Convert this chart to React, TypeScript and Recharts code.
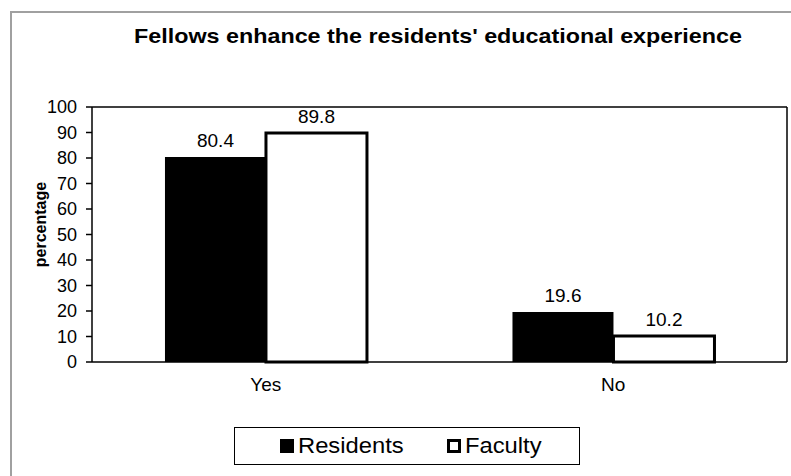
import React from "react";
import { BarChart, Bar, XAxis, YAxis, Legend, LabelList } from "recharts";

const categories = ["Yes", "No"];
const residents = [80.4, 19.6];
const faculty = [89.8, 10.2];
const yTicks = [0, 10, 20, 30, 40, 50, 60, 70, 80, 90, 100];
const edgeTicks = [0, 1, 2];
const seriesNames = ["Residents", "Faculty"];

const data = categories.map((name, i) => ({
    name,
    Residents: residents[i],
    Faculty: faculty[i],
}));

const FONT = "Arial, 'Liberation Sans', sans-serif";

function YLabel(props: any) {
    const vb = props.viewBox;
    const x = vb.x + 8;
    const y = vb.y + vb.height / 2 - 10;
    return (
        <text
            x={x}
            y={y}
            transform={`rotate(-90, ${x}, ${y})`}
            textAnchor="middle"
            dominantBaseline="central"
            fontFamily={FONT}
            fontSize={16}
            fontWeight="bold"
            fill="#000"
        >
            percentage
        </text>
    );
}

function LegendBox() {
    return (
        <div
            style={{
                width: "100%",
                height: "100%",
                boxSizing: "border-box",
                border: "1.5px solid #000",
                background: "#fff",
                display: "flex",
                alignItems: "center",
                fontFamily: FONT,
                fontSize: 22,
                color: "#000",
            }}
        >
            {seriesNames.map((s, i) => (
                <div
                    key={s}
                    style={{
                        display: "flex",
                        alignItems: "center",
                        marginLeft: i === 0 ? 45 : 51,
                    }}
                >
                    <span
                        style={{
                            display: "inline-block",
                            width: 14,
                            height: 14,
                            boxSizing: "border-box",
                            background: i === 0 ? "#000" : "#fff",
                            border: "3px solid #000",
                            marginRight: 4,
                        }}
                    />
                    <span style={{ display: "inline-block", transform: "scaleX(1.08)", transformOrigin: "left" }}>{s}</span>
                </div>
            ))}
        </div>
    );
}

export default function App() {
    return (
        <div
            style={{
                position: "absolute",
                left: 0,
                top: 0,
                width: 791,
                height: 476,
                overflow: "hidden",
                background: "#fff",
            }}
        >
            <div
                style={{
                    position: "absolute",
                    left: 10,
                    top: 11,
                    width: 800,
                    height: 500,
                    borderLeft: "2px solid #a0a0a0",
                    borderTop: "2px solid #a0a0a0",
                }}
            />
            <div
                style={{
                    position: "absolute",
                    left: 438,
                    top: 25,
                    transform: "translateX(-50%) scaleX(1.11)",
                    whiteSpace: "nowrap",
                    fontFamily: FONT,
                    fontSize: 21,
                    lineHeight: "21px",
                    fontWeight: "bold",
                    color: "#000",
                }}
            >
                Fellows enhance the residents' educational experience
            </div>
            <div style={{ position: "absolute", left: 0, top: 0 }}>
                <BarChart
                    width={791}
                    height={476}
                    data={data}
                    margin={{ top: 106, right: 3, left: 32, bottom: 83 }}
                    barCategoryGap="21%"
                    barGap={0}
                >
                    <XAxis
                        xAxisId="zcat"
                        dataKey="name"
                        height={30}
                        axisLine={false}
                        tickLine={false}
                        tickMargin={9}
                        fontSize={19}
                        tick={{ fill: "#000", fontSize: 19, fontFamily: FONT }}
                    />
                    <XAxis
                        xAxisId="aedge"
                        type="number"
                        domain={[0, 2]}
                        ticks={edgeTicks}
                        interval={0}
                        height={1}
                        tick={false}
                        tickSize={6}
                        stroke="#000"
                        strokeWidth={1.5}
                    />
                    <XAxis
                        xAxisId="top"
                        orientation="top"
                        dataKey="name"
                        height={1}
                        tick={false}
                        tickLine={false}
                        stroke="#000"
                        strokeWidth={1.5}
                    />
                    <YAxis
                        yAxisId="left"
                        domain={[0, 100]}
                        ticks={yTicks}
                        interval={0}
                        width={60}
                        tickSize={6}
                        tickMargin={9}
                        stroke="#000"
                        strokeWidth={1.5}
                        fontSize={18}
                        tick={{ fill: "#000", fontSize: 18, fontFamily: FONT }}
                        label={{ position: "center", content: YLabel }}
                    />
                    <YAxis
                        yAxisId="right"
                        orientation="right"
                        domain={[0, 100]}
                        width={1}
                        tick={false}
                        tickLine={false}
                        stroke="#000"
                        strokeWidth={1.5}
                    />
                    <Legend
                        layout="horizontal"
                        verticalAlign="middle"
                        align="center"
                        wrapperStyle={{ left: 234, top: 427, width: 346, height: 38 }}
                        content={() => <LegendBox />}
                    />
                    <Bar
                        xAxisId="zcat"
                        yAxisId="left"
                        dataKey="Residents"
                        fill="#000"
                        isAnimationActive={false}
                    >
                        <LabelList
                            dataKey="Residents"
                            position="top"
                            offset={10}
                            fill="#000"
                            fontSize={19}
                            fontFamily={FONT}
                        />
                    </Bar>
                    <Bar
                        xAxisId="zcat"
                        yAxisId="left"
                        dataKey="Faculty"
                        fill="#fff"
                        stroke="#000"
                        strokeWidth={3}
                        isAnimationActive={false}
                    >
                        <LabelList
                            dataKey="Faculty"
                            position="top"
                            offset={10}
                            fill="#000"
                            fontSize={19}
                            fontFamily={FONT}
                        />
                    </Bar>
                </BarChart>
            </div>
        </div>
    );
}
